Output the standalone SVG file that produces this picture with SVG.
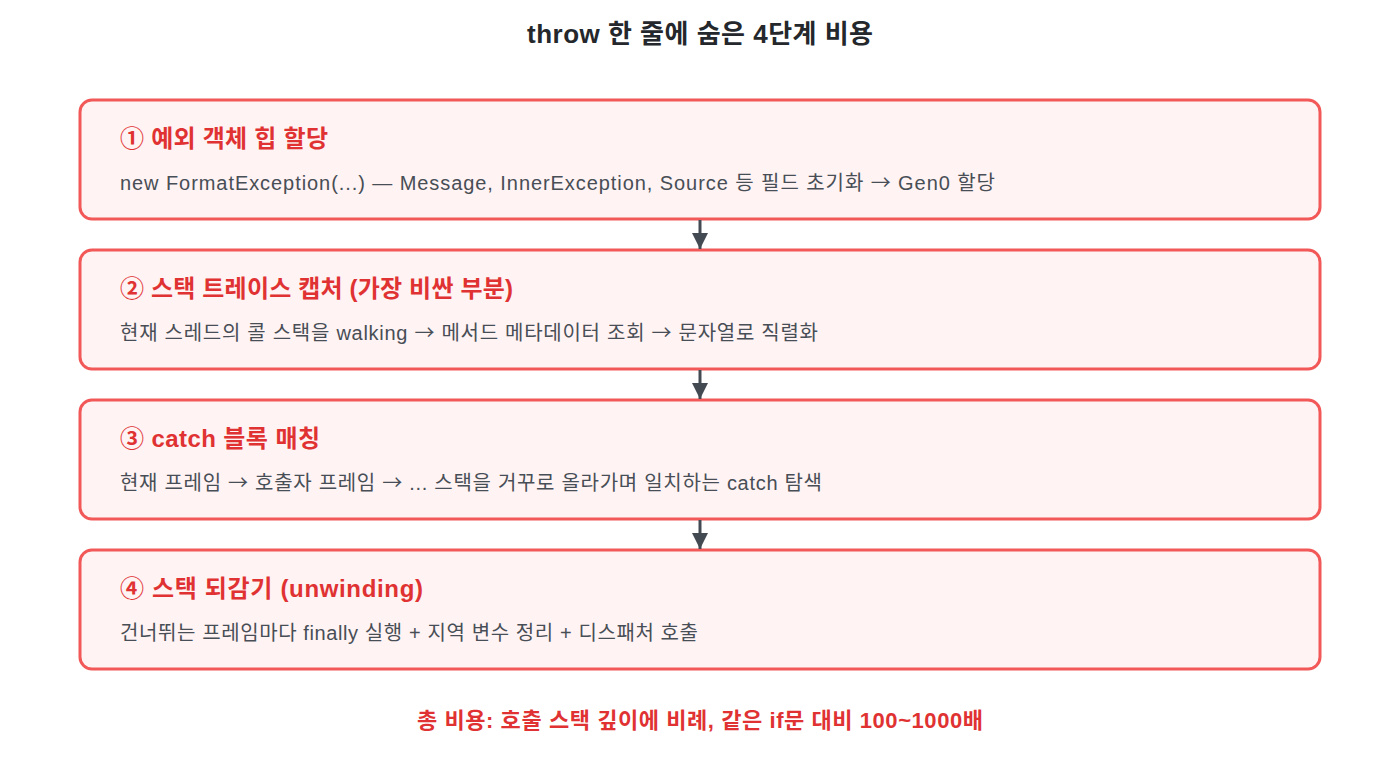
<svg xmlns="http://www.w3.org/2000/svg" width="1400" height="760" viewBox="0 0 1400 760">
<style>
text{font-family:"Liberation Sans","Noto Sans CJK KR",sans-serif}
.ar{font-family:"Noto Sans CJK KR",sans-serif}
.title{font-size:26px;font-weight:bold;fill:#24272b;text-anchor:middle}
.box{fill:#fff3f3;stroke:#f25858;stroke-width:3}
.h{font-size:24px;font-weight:bold;fill:#e03232}
.d{font-size:20px;fill:#484e56}
.foot{font-size:22px;font-weight:bold;fill:#e03232;text-anchor:middle}
.conn{stroke:#444a52;stroke-width:3;fill:none}
</style>
<defs>
<marker id="ah" viewBox="0 0 10 10" refX="10" refY="5" markerWidth="5.5" markerHeight="5.5" markerUnits="strokeWidth" orient="auto">
<path d="M0,0 L10,5 L0,10 z" fill="#444a52"/>
</marker>
</defs>
<rect width="1400" height="760" fill="#ffffff"/>
<text class="title" x="700" y="43" textLength="346" lengthAdjust="spacing">throw 한 줄에 숨은 4단계 비용</text>
<g id="step1">
<rect class="box" x="80" y="100" width="1240" height="119" rx="12"/>
<text class="h" x="120" y="147" textLength="208" lengthAdjust="spacing">① 예외 객체 힙 할당</text>
<text class="d" x="120" y="190" textLength="875" lengthAdjust="spacing">new FormatException(...) — Message, InnerException, Source 등 필드 초기화 <tspan class="ar">→</tspan> Gen0 할당</text>
</g>
<g id="step2">
<rect class="box" x="80" y="250" width="1240" height="119" rx="12"/>
<text class="h" x="120" y="297" textLength="393" lengthAdjust="spacing">② 스택 트레이스 캡처 (가장 비싼 부분)</text>
<text class="d" x="120" y="340" textLength="698" lengthAdjust="spacing">현재 스레드의 콜 스택을 walking <tspan class="ar">→</tspan> 메서드 메타데이터 조회 <tspan class="ar">→</tspan> 문자열로 직렬화</text>
</g>
<g id="step3">
<rect class="box" x="80" y="400" width="1240" height="119" rx="12"/>
<text class="h" x="120" y="447" textLength="200" lengthAdjust="spacing">③ catch 블록 매칭</text>
<text class="d" x="120" y="490" textLength="702" lengthAdjust="spacing">현재 프레임 <tspan class="ar">→</tspan> 호출자 프레임 <tspan class="ar">→</tspan> ... 스택을 거꾸로 올라가며 일치하는 catch 탐색</text>
</g>
<g id="step4">
<rect class="box" x="80" y="550" width="1240" height="119" rx="12"/>
<text class="h" x="120" y="597" textLength="303" lengthAdjust="spacing">④ 스택 되감기 (unwinding)</text>
<text class="d" x="120" y="640" textLength="578" lengthAdjust="spacing">건너뛰는 프레임마다 finally 실행 + 지역 변수 정리 + 디스패처 호출</text>
</g>
<g id="connectors">
<line class="conn" x1="700" y1="220" x2="700" y2="249" marker-end="url(#ah)"/>
<line class="conn" x1="700" y1="370" x2="700" y2="399" marker-end="url(#ah)"/>
<line class="conn" x1="700" y1="520" x2="700" y2="549" marker-end="url(#ah)"/>
</g>
<text class="foot" x="700" y="728" textLength="566" lengthAdjust="spacing">총 비용: 호출 스택 깊이에 비례, 같은 if문 대비 100~1000배</text>
</svg>
